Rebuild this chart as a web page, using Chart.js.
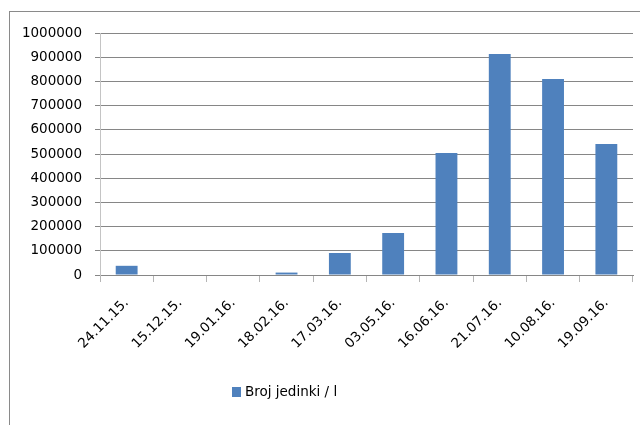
<!DOCTYPE html>
<html>
<head>
<meta charset="utf-8">
<script src="https://cdn.jsdelivr.net/npm/chart.js@4/dist/chart.umd.min.js"></script>
<style>
  html, body { margin: 0; padding: 0; background: #fff; }
  #frame { position: absolute; left: 0; top: 0; width: 640px; height: 425px; }
  #edge { position: absolute; left: 9px; top: 11px; width: 640px; height: 430px;
          border-left: 1px solid #8a8a8a; border-top: 1px solid #8a8a8a; box-sizing: border-box; }
  canvas { position: absolute; left: 0; top: 0; }
</style>
</head>
<body>
<div id="frame">
  <div id="edge"></div>
  <canvas id="c" width="640" height="425"></canvas>
</div>
<script>
// Sampling dates and counted individuals per litre
const categories = ['24.11.15.', '15.12.15.', '19.01.16.', '18.02.16.', '17.03.16.',
                    '03.05.16.', '16.06.16.', '21.07.16.', '10.08.16.', '19.09.16.'];
const counts = [38000, 0, 0, 10000, 91000, 174000, 504000, 913000, 810000, 541000];
const seriesName = 'Broj jedinki / l';
const yMax = 1000000;
const yStep = 100000;

const barColor = '#4F81BD';
const font = { family: '"DejaVu Sans", Verdana, sans-serif', size: 13.5 };

// Legend drawn as a single key below the axis labels
const bottomKey = {
  id: 'bottomKey',
  afterDraw(chart) {
    const ctx = chart.ctx;
    ctx.save();
    ctx.fillStyle = barColor;
    ctx.fillRect(232, 387, 9, 10);
    ctx.fillStyle = '#000';
    ctx.font = font.size + 'px ' + font.family;
    ctx.textBaseline = 'middle';
    ctx.textAlign = 'left';
    ctx.fillText(seriesName, 245, 392);
    ctx.restore();
  }
};

new Chart(document.getElementById('c'), {
  type: 'bar',
  data: {
    labels: categories,
    datasets: [{
      label: seriesName,
      data: counts,
      backgroundColor: barColor,
      borderWidth: 0,
      barPercentage: 0.41,
      categoryPercentage: 1
    }]
  },
  options: {
    responsive: false,
    animation: false,
    layout: { padding: { left: 0, right: 7, top: 33, bottom: 70 } },
    plugins: { legend: { display: false }, tooltip: { enabled: false } },
    scales: {
      x: {
        afterFit(scale) { scale.height = 80; },
        grid: { drawOnChartArea: false, tickLength: 7, color: '#b5b5b5', offset: true },
        border: { color: '#868686' },
        ticks: { color: '#000', font: font, minRotation: 45, maxRotation: 45, padding: 13 }
      },
      y: {
        min: 0,
        max: yMax,
        afterFit(scale) { scale.width = 100; },
        grid: { color: '#868686', tickLength: 5 },
        border: { color: '#c4c4c4' },
        ticks: {
          stepSize: yStep,
          color: '#000',
          font: font,
          padding: 13,
          callback: v => String(v)
        }
      }
    }
  },
  plugins: [bottomKey]
});
</script>
</body>
</html>
